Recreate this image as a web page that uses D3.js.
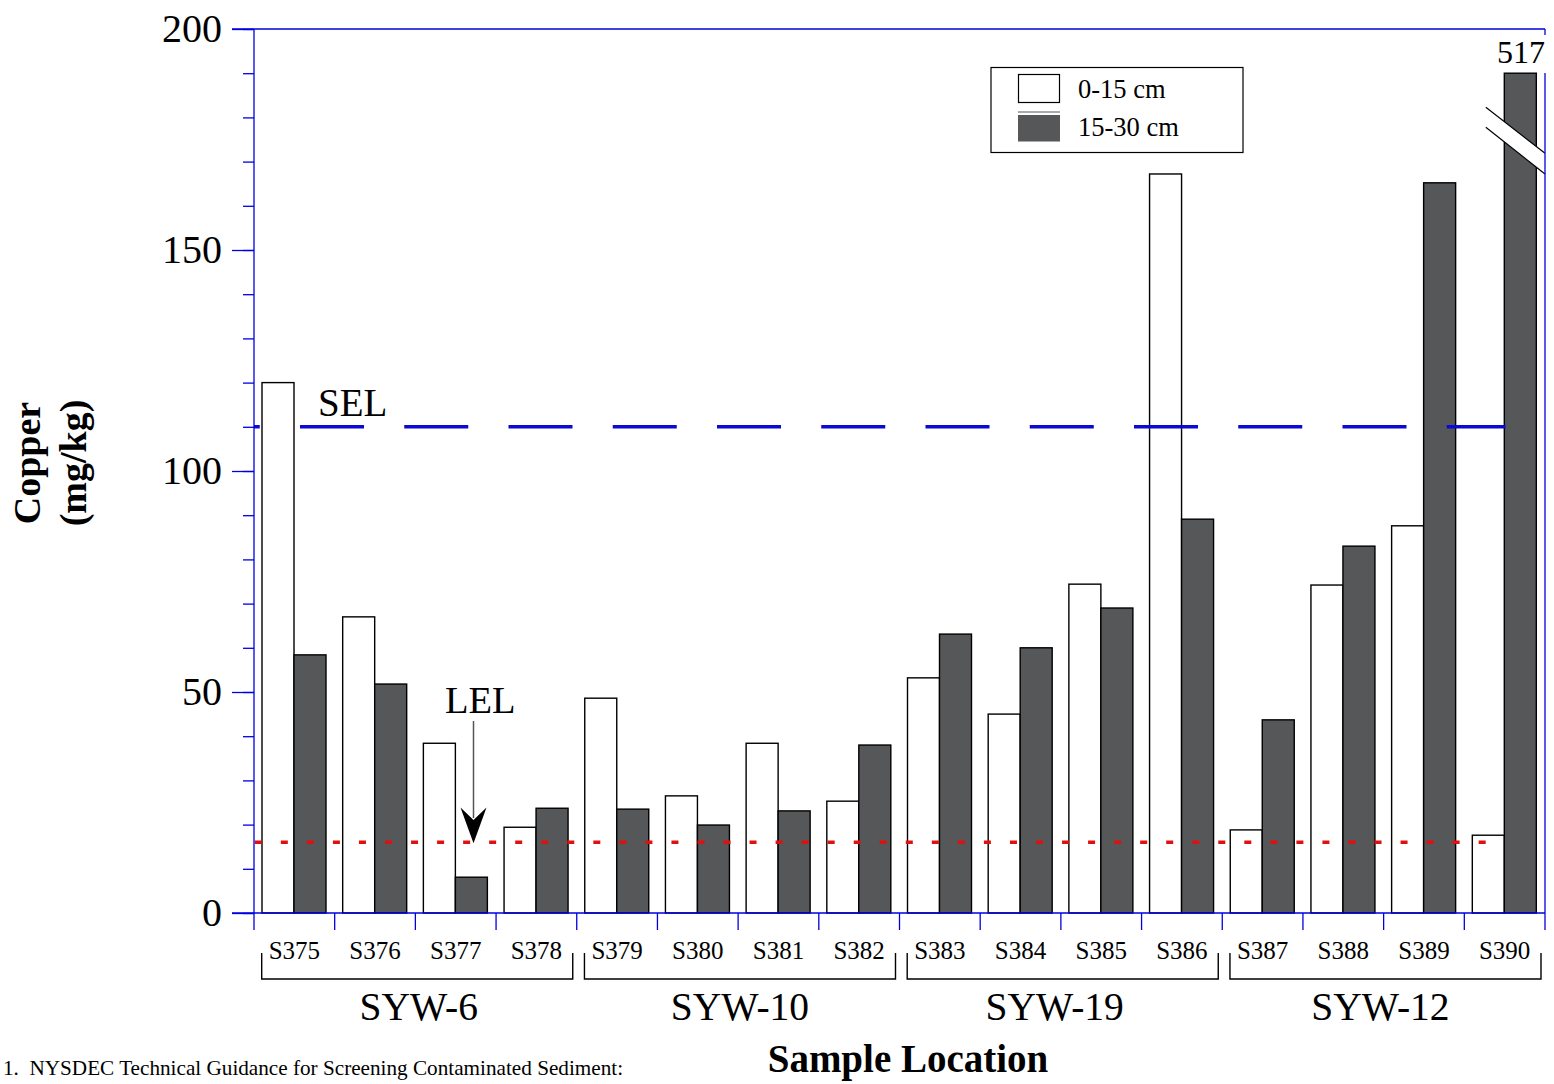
<!DOCTYPE html>
<html>
<head>
<meta charset="utf-8">
<script src="https://cdn.jsdelivr.net/npm/d3@7"></script>
<style>
  html, body { margin: 0; padding: 0; background: #fff; }
  svg { display: block; font-family: "Liberation Serif", "Times New Roman", serif; }
</style>
</head>
<body>
<svg id="chart" width="1554" height="1084"></svg>
<script>
// Copper concentrations in sediment cores, by sample location and depth interval
const samples = ["S375","S376","S377","S378","S379","S380","S381","S382",
                 "S383","S384","S385","S386","S387","S388","S389","S390"];
const depths = ["0-15 cm", "15-30 cm"];
const shallow = [120, 67, 38.4, 19.4, 48.6, 26.5, 38.4, 25.3, 53.2, 45, 74.4, 167.2, 18.8, 74.2, 87.6, 17.6];
const deep    = [58.4, 51.8, 8.1, 23.7, 23.5, 19.9, 23.1, 38, 63.1, 60, 69, 89.1, 43.7, 83, 165.2, 517];
const groups = [
  { name: "SYW-6",  from: "S375", to: "S378" },
  { name: "SYW-10", from: "S379", to: "S382" },
  { name: "SYW-19", from: "S383", to: "S386" },
  { name: "SYW-12", from: "S387", to: "S390" }
];
const yTicks = [0, 50, 100, 150, 200];
const SEL = 110;   // severe effect level
const LEL = 16;    // lowest effect level
const breakAt = 190; // bars above the axis are cut here and drawn with a break

const AXIS = "#0000e0", DARK = "#555759";

const svg = d3.select("#chart");
const pLeft = 254, pRight = 1545, pTop = 29, pBottom = 913;

const x = d3.scaleBand().domain(samples).range([pLeft, pRight]).padding(0);
const xs = d3.scaleBand().domain(depths).range([8, 72]);
const y = d3.scaleLinear().domain([0, 200]).range([pBottom, pTop]);

const rows = samples.map((s, i) => ({ s, vals: [shallow[i], deep[i]] }));

// bars
const bars = svg.append("g");
rows.forEach(r => {
  r.vals.forEach((v, j) => {
    const vv = Math.min(v, breakAt);
    bars.append("rect")
      .attr("x", x(r.s) + xs(depths[j]))
      .attr("y", y(vv))
      .attr("width", xs.bandwidth())
      .attr("height", y(0) - y(vv))
      .attr("fill", j === 0 ? "#fff" : DARK)
      .attr("stroke", "#000")
      .attr("stroke-width", 1.4);
  });
});

// axis break on the off-scale bar
rows.forEach(r => {
  if (r.vals[1] > breakAt) {
    const bx = x(r.s) + xs(depths[1]);
    const x0 = bx - 18.5, x1 = pRight;
    const pts = [[x0, 107.3], [x1, 153.3], [x1, 174], [x0, 127.3]];
    svg.append("polygon").attr("points", pts.map(p => p.join(",")).join(" "))
      .attr("fill", "#fff");
    svg.append("line").attr("x1", x0).attr("y1", 107.3).attr("x2", x1).attr("y2", 153.3)
      .attr("stroke", "#000").attr("stroke-width", 1.2);
    svg.append("line").attr("x1", x0).attr("y1", 127.3).attr("x2", x1).attr("y2", 174)
      .attr("stroke", "#000").attr("stroke-width", 1.2);
    svg.append("text").attr("x", pRight).attr("y", 63).attr("text-anchor", "end")
      .attr("font-size", 32).text(r.vals[1]);
  }
});

// reference levels
svg.append("line")
  .attr("x1", pLeft).attr("x2", 1505.5).attr("y1", y(SEL)).attr("y2", y(SEL))
  .attr("stroke", "#0a0ad2").attr("stroke-width", 3.6)
  .attr("stroke-dasharray", "64 40.25").attr("stroke-dashoffset", 58.25);
svg.append("line")
  .attr("x1", pLeft + 0.8).attr("x2", 1486).attr("y1", y(LEL)).attr("y2", y(LEL))
  .attr("stroke", "#e01010").attr("stroke-width", 3.6)
  .attr("stroke-dasharray", "7 19.04");

svg.append("text").attr("x", 318).attr("y", 416).attr("font-size", 39).text("SEL");
svg.append("text").attr("x", 445).attr("y", 713).attr("font-size", 38.5).text("LEL");
const ax = 473.5;
svg.append("line").attr("x1", ax).attr("x2", ax).attr("y1", 721).attr("y2", 818)
  .attr("stroke", "#555").attr("stroke-width", 1.5);
svg.append("path")
  .attr("d", `M${ax},${y(LEL) + 1} L${ax - 13},${807.5} L${ax},${820} L${ax + 13},${807.5} Z`)
  .attr("fill", "#000");

// y axis: minor and major ticks
const yMinor = svg.append("g").attr("transform", `translate(${pLeft},0)`)
  .call(d3.axisLeft(y).tickValues(d3.range(0, 201, 10)).tickSize(11).tickFormat(""));
const yMajor = svg.append("g").attr("transform", `translate(${pLeft},0)`)
  .call(d3.axisLeft(y).tickValues(yTicks).tickSize(22).tickPadding(10));
[yMinor, yMajor].forEach(g => {
  g.select(".domain").remove();
  g.selectAll("line").attr("stroke", AXIS).attr("stroke-width", 1.3);
});
yMajor.selectAll("text").attr("font-family", "Liberation Serif, serif")
  .attr("font-size", 40).attr("fill", "#000").attr("dy", "0.32em");

// frame: left axis, bottom axis, top and right edges
const frame = svg.append("g").attr("stroke", AXIS).attr("stroke-width", 1.3);
frame.append("line").attr("x1", pLeft).attr("x2", pLeft).attr("y1", pTop).attr("y2", pBottom);
frame.append("line").attr("x1", pLeft - 22).attr("x2", pRight).attr("y1", pTop).attr("y2", pTop);
frame.append("line").attr("x1", pRight).attr("x2", pRight).attr("y1", pTop).attr("y2", 35);
frame.append("line").attr("x1", pRight).attr("x2", pRight).attr("y1", 73).attr("y2", pBottom);

// x axis with ticks at category boundaries
const xAxis = svg.append("g").attr("transform", `translate(0,${pBottom})`);
xAxis.append("line").attr("x1", pLeft - 22).attr("x2", pRight).attr("stroke", AXIS).attr("stroke-width", 1.3);
xAxis.selectAll("line.b").data(d3.range(samples.length + 1)).join("line")
  .attr("class", "b")
  .attr("x1", i => pLeft + i * x.bandwidth()).attr("x2", i => pLeft + i * x.bandwidth())
  .attr("y1", 0).attr("y2", 17).attr("stroke", AXIS).attr("stroke-width", 1.3);
xAxis.selectAll("text").data(samples).join("text")
  .attr("x", s => x(s) + x.bandwidth() / 2).attr("y", 46)
  .attr("text-anchor", "middle").attr("font-size", 25).text(s => s);

// group brackets, with small per-label nudges for the centred names
const groupLabelNudge = [1.5, 0, -8, -5];
groups.forEach((g, i) => {
  const gx0 = x(g.from) + 7.7, gx1 = x(g.to) + x.bandwidth() - 4;
  svg.append("path")
    .attr("d", `M${gx0},953 V979 H${gx1} V953`)
    .attr("fill", "none").attr("stroke", "#000").attr("stroke-width", 1.4);
  svg.append("text").attr("x", (gx0 + gx1) / 2 + groupLabelNudge[i]).attr("y", 1020)
    .attr("text-anchor", "middle").attr("font-size", 39.5).text(g.name);
});

// axis titles
svg.append("text").attr("x", 908).attr("y", 1072).attr("text-anchor", "middle")
  .attr("font-size", 39).attr("font-weight", "bold").text("Sample Location");
const yt = svg.append("text").attr("transform", "translate(0,463) rotate(-90)")
  .attr("text-anchor", "middle").attr("font-size", 38).attr("font-weight", "bold");
yt.append("tspan").attr("x", 0).attr("y", 40).text("Copper");
yt.append("tspan").attr("x", 0).attr("y", 86).text("(mg/kg)");

// legend
const lg = svg.append("g");
lg.append("rect").attr("x", 991).attr("y", 67.5).attr("width", 252).attr("height", 85)
  .attr("fill", "#fff").attr("stroke", "#000").attr("stroke-width", 1.2);
lg.append("rect").attr("x", 1018.5).attr("y", 74.5).attr("width", 41).attr("height", 28)
  .attr("fill", "#fff").attr("stroke", "#000").attr("stroke-width", 1.2);
lg.append("line").attr("x1", 1018).attr("x2", 1060).attr("y1", 112).attr("y2", 112)
  .attr("stroke", "#555").attr("stroke-width", 1);
lg.append("rect").attr("x", 1018).attr("y", 115).attr("width", 42).attr("height", 26.5)
  .attr("fill", DARK);
lg.selectAll("text.l").data(depths).join("text").attr("class", "l")
  .attr("x", 1078).attr("y", (d, i) => 97.5 + i * 38.5)
  .attr("font-size", 26.5).text(d => d);

// footnote
svg.append("text").attr("x", 3).attr("y", 1075).attr("font-size", 21.2)
  .style("white-space", "pre")
  .text("1.  NYSDEC Technical Guidance for Screening Contaminated Sediment:");
</script>
</body>
</html>
